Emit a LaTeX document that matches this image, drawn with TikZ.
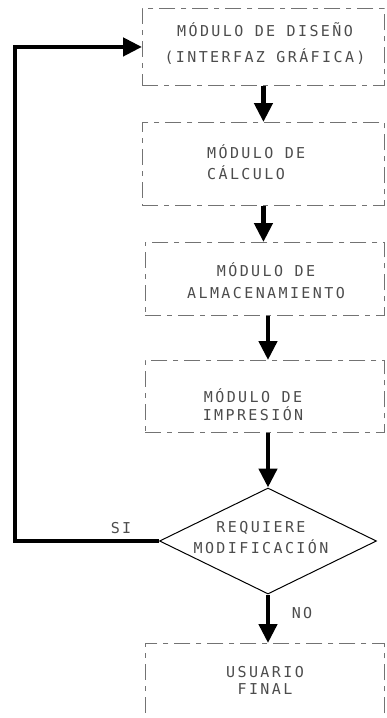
\documentclass[tikz,border=0pt]{standalone}
\usepackage{fontspec}
\newfontfamily\plotfont[LetterSpace=16]{DejaVu Sans Mono}
\usetikzlibrary{arrows.meta,shapes.geometric}
\begin{document}
\begin{tikzpicture}[x=1pt,y=-1pt,
  box/.style={draw=black!55, line width=0.9pt, dash pattern=on 16pt off 6pt on 5pt off 6pt,
    anchor=north west, inner sep=0pt, minimum width=#1},
  dec/.style={draw=black, line width=1pt, shape=diamond, inner sep=0pt,
    minimum width=217pt, minimum height=106pt},
  txt/.style={font=\plotfont\fontsize{15}{#1}\selectfont, text=black!70, inner sep=0pt},
  arr/.style={line width=4.5pt, -{Triangle[length=19pt,width=18pt]}},
  back/.style={line width=4.5pt, line join=miter, -{Triangle[length=19pt,width=18pt]}}]
\useasboundingbox (0,0) rectangle (386,718);

\node[box=242pt, minimum height=77pt] (b1) at (142,8) {};
\node[box=242pt, minimum height=83pt] (b2) at (142,122) {};
\node[box=239pt, minimum height=73pt] (b3) at (145,242) {};
\node[box=239pt, minimum height=72pt] (b4) at (145,360) {};
\node[box=239pt, minimum height=95pt] (b5) at (145,643) {};
\node[dec] (d) at (268,541) {};

\node[txt=26pt, align=center] (t1) at (265,44) {MÓDULO DE DISEÑO\\(INTERFAZ GRÁFICA)};
\node[txt=21pt, align=left, anchor=west] (t2) at (207,162) {MÓDULO DE\\CÁLCULO};
\node[txt=22pt, align=center] (t3) at (266,281) {MÓDULO DE\\ALMACENAMIENTO};
\node[txt=18pt, align=center] (t4) at (253,405) {MÓDULO DE\\IMPRESIÓN};
\node[txt=21pt, align=center] (t5) at (261,538) {REQUIERE\\MODIFICACIÓN};
\node[txt=17pt, align=center] (t6) at (265,680) {USUARIO\\FINAL};
\node[txt=14pt] (si) at (121,528) {SI};
\node[txt=14pt] (no) at (302,613) {NO};

\coordinate (loopc) at (15,45);
\draw[arr] (b1.south) -- (b2.north);
\draw[arr] (b2.south) -- (b3.north -| b2.south);
\draw[arr] (b3.south -| d.north) -- (b4.north -| d.north);
\draw[arr] (b4.south -| d.north) -- (d.north);
\draw[arr] (d.south) -- (b5.north -| d.south);
\draw[back] (d.west) -- (d.west -| loopc) |- (b1.west);
\end{tikzpicture}
\end{document}
